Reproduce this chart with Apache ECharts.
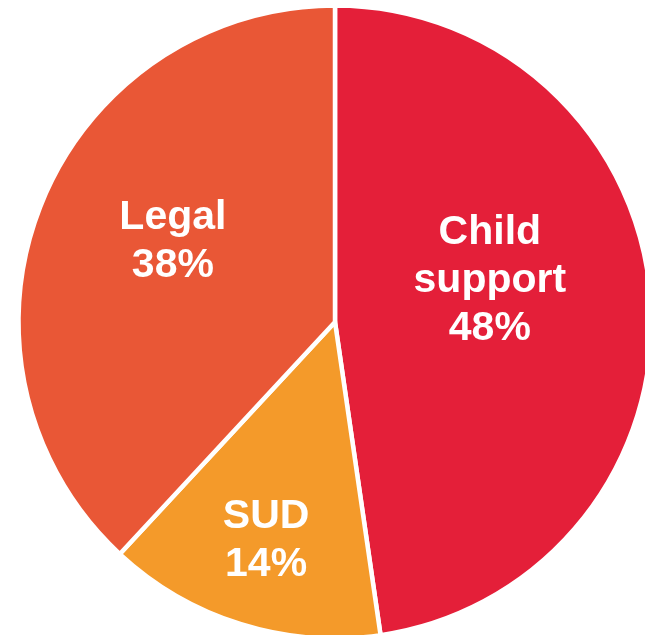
<!DOCTYPE html>
<html>
<head>
<meta charset="utf-8">
<script src="https://cdn.jsdelivr.net/npm/echarts@6/dist/echarts.min.js"></script>
<style>
html,body{margin:0;padding:0;background:#fff;}
#chart{width:645px;height:635px;}
</style>
</head>
<body>
<div id="chart"></div>
<script>
const categories = ['Child support', 'SUD', 'Legal'];
const values = [47.7, 14.2, 38.1];

const colors = ['#E41F39', '#F49A2A', '#E95736'];
const labelOffsets = [[-6, -30], [-21, 65], [-12, -21]];

const chart = echarts.init(document.getElementById('chart'), null, {renderer: 'canvas'});
chart.setOption({
  animation: false,
  backgroundColor: '#ffffff',
  series: [{
    type: 'pie',
    center: [335, 322],
    radius: [0, 316.5],
    startAngle: 90,
    clockwise: true,
    silent: true,
    itemStyle: { borderColor: '#ffffff', borderWidth: 4.5 },
    label: {
      show: true,
      position: 'inside',
      color: '#ffffff',
      fontFamily: '"Liberation Sans", Arial, sans-serif',
      fontWeight: 'bold',
      fontSize: 41,
      lineHeight: 48,
      align: 'center',
      formatter: p => p.name.replace(' ', '\n') + '\n' + Math.round(p.value) + '%'
    },
    labelLine: { show: false },
    data: categories.map((c, i) => ({
      name: c,
      value: values[i],
      itemStyle: { color: colors[i] },
      label: { offset: labelOffsets[i] }
    }))
  }]
});
</script>
</body>
</html>
